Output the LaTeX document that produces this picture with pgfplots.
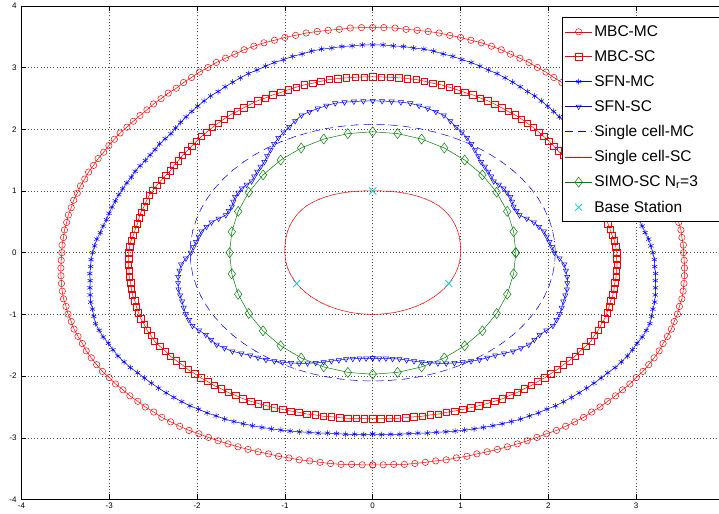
\documentclass[border=0pt]{standalone}
\usepackage{fontspec}
\setmainfont{Liberation Sans}
\usepackage{pgfplots}
\pgfplotsset{compat=1.18}
\definecolor{mgreen}{rgb}{0,0.5,0}
\definecolor{bscyan}{rgb}{0.1,0.8,0.8}
\begin{document}
\begin{tikzpicture}
\begin{axis}[name=ax, scale only axis, width=702.4pt, height=493.6pt,
 xmin=-4, xmax=4, ymin=-4, ymax=4,
 xtick={-4,-3,...,4}, ytick={-4,-3,...,4},
 xticklabels={-4,-3,-2,-1,0,1,2,3,{}},
 grid=major, grid style={black!70, line width=0.5pt, dash pattern=on 0.8pt off 2.4pt},
 tick align=inside, major tick length=5pt, tick style={black, line width=0.5pt},
 axis line style={black, line width=0.6pt},
 ticklabel style={font=\fontsize{8}{9}\selectfont},
 yticklabel style={xshift=-1.5pt},
 /pgf/number format/assume math mode=true,
 legend cell align=left,
 legend image code/.code={\draw[mark repeat=2,mark phase=2,#1] plot coordinates {(0cm,0cm)(0.47cm,0cm)(0.94cm,0cm)};},
 legend style={at={(0.769,0.977)}, anchor=north west, line width=0.8pt,
   font=\fontsize{15.5}{18}\selectfont, inner xsep=3pt, inner ysep=6pt, row sep=8.6pt,
   nodes={inner sep=2pt, text depth=0.15em}},
]
% MBC-MC
\addplot[red, draw=red, line width=0.5pt, mark=o, mark size=3.2pt, data cs=polar] coordinates {
(-90,3.44) (-88,3.44) (-86,3.44) (-84,3.45) (-82,3.45) (-80,3.45) (-78,3.45) (-76,3.46) (-74,3.46) (-72,3.47) (-70,3.47) (-68,3.48) (-66,3.49) (-64,3.50) (-62,3.51) (-60,3.52) (-58,3.53) (-56,3.54) (-54,3.56) (-52,3.57) (-50,3.58) (-48,3.59) (-46,3.59) (-44,3.60) (-42,3.60) (-40,3.61) (-38,3.61) (-36,3.62) (-34,3.62) (-32,3.63) (-30,3.63) (-28,3.63) (-26,3.63) (-24,3.62) (-22,3.62) (-20,3.62) (-18,3.61) (-16,3.61) (-14,3.60) (-12,3.60) (-10,3.59) (-8,3.58) (-6,3.57) (-4,3.56) (-2,3.55) (0,3.54) (2,3.54) (4,3.53) (6,3.53) (8,3.52) (10,3.52) (12,3.51) (14,3.51) (16,3.50) (18,3.50) (20,3.49) (22,3.49) (24,3.48) (26,3.48) (28,3.47) (30,3.47) (32,3.47) (34,3.47) (36,3.46) (38,3.46) (40,3.46) (42,3.46) (44,3.47) (46,3.47) (48,3.48) (50,3.48) (52,3.50) (54,3.51) (56,3.53) (58,3.54) (60,3.56) (62,3.57) (64,3.58) (66,3.60) (68,3.61) (70,3.62) (72,3.62) (74,3.63) (76,3.63) (78,3.64) (80,3.64) (82,3.64) (84,3.64) (86,3.65) (88,3.65) (90,3.65)
(92,3.65) (94,3.65) (96,3.64) (98,3.64) (100,3.64) (102,3.64) (104,3.63) (106,3.63) (108,3.62) (110,3.62) (112,3.61) (114,3.60) (116,3.58) (118,3.57) (120,3.56) (122,3.54) (124,3.53) (126,3.51) (128,3.50) (130,3.48) (132,3.48) (134,3.47) (136,3.47) (138,3.46) (140,3.46) (142,3.46) (144,3.46) (146,3.47) (148,3.47) (150,3.47) (152,3.47) (154,3.48) (156,3.48) (158,3.49) (160,3.49) (162,3.50) (164,3.50) (166,3.51) (168,3.51) (170,3.52) (172,3.52) (174,3.53) (176,3.53) (178,3.54) (180,3.54) (182,3.55) (184,3.56) (186,3.57) (188,3.58) (190,3.59) (192,3.60) (194,3.60) (196,3.61) (198,3.61) (200,3.62) (202,3.62) (204,3.62) (206,3.63) (208,3.63) (210,3.63) (212,3.63) (214,3.62) (216,3.62) (218,3.61) (220,3.61) (222,3.60) (224,3.60) (226,3.59) (228,3.59) (230,3.58) (232,3.57) (234,3.56) (236,3.54) (238,3.53) (240,3.52) (242,3.51) (244,3.50) (246,3.49) (248,3.48) (250,3.47) (252,3.47) (254,3.46) (256,3.46) (258,3.45) (260,3.45) (262,3.45) (264,3.45) (266,3.44) (268,3.44) (270,3.44)
};
\addlegendentry{MBC-MC}
% MBC-SC
\addplot[red, draw=red, line width=0.5pt, mark=square, mark size=3.2pt, data cs=polar] coordinates {
(-90,2.69) (-88,2.69) (-86,2.69) (-84,2.70) (-82,2.70) (-80,2.70) (-78,2.71) (-76,2.71) (-74,2.72) (-72,2.72) (-70,2.73) (-68,2.74) (-66,2.75) (-64,2.76) (-62,2.77) (-60,2.78) (-58,2.79) (-56,2.79) (-54,2.80) (-52,2.80) (-50,2.81) (-48,2.81) (-46,2.82) (-44,2.82) (-42,2.83) (-40,2.83) (-38,2.84) (-36,2.85) (-34,2.85) (-32,2.86) (-30,2.87) (-28,2.86) (-26,2.86) (-24,2.85) (-22,2.85) (-20,2.84) (-18,2.83) (-16,2.82) (-14,2.82) (-12,2.81) (-10,2.80) (-8,2.80) (-6,2.79) (-4,2.79) (-2,2.78) (0,2.78) (2,2.77) (4,2.76) (6,2.74) (8,2.73) (10,2.72) (12,2.72) (14,2.72) (16,2.71) (18,2.71) (20,2.71) (22,2.70) (24,2.69) (26,2.68) (28,2.67) (30,2.66) (32,2.67) (34,2.67) (36,2.68) (38,2.68) (40,2.69) (42,2.70) (44,2.71) (46,2.72) (48,2.73) (50,2.74) (52,2.75) (54,2.76) (56,2.76) (58,2.77) (60,2.78) (62,2.79) (64,2.79) (66,2.80) (68,2.80) (70,2.81) (72,2.82) (74,2.83) (76,2.83) (78,2.84) (80,2.85) (82,2.85) (84,2.85) (86,2.85) (88,2.85) (90,2.85)
(92,2.85) (94,2.85) (96,2.85) (98,2.85) (100,2.85) (102,2.84) (104,2.83) (106,2.83) (108,2.82) (110,2.81) (112,2.80) (114,2.80) (116,2.79) (118,2.79) (120,2.78) (122,2.77) (124,2.76) (126,2.76) (128,2.75) (130,2.74) (132,2.73) (134,2.72) (136,2.71) (138,2.70) (140,2.69) (142,2.68) (144,2.68) (146,2.67) (148,2.67) (150,2.66) (152,2.67) (154,2.68) (156,2.69) (158,2.70) (160,2.71) (162,2.71) (164,2.71) (166,2.72) (168,2.72) (170,2.72) (172,2.73) (174,2.74) (176,2.76) (178,2.77) (180,2.78) (182,2.78) (184,2.79) (186,2.79) (188,2.80) (190,2.80) (192,2.81) (194,2.82) (196,2.82) (198,2.83) (200,2.84) (202,2.85) (204,2.85) (206,2.86) (208,2.86) (210,2.87) (212,2.86) (214,2.85) (216,2.85) (218,2.84) (220,2.83) (222,2.83) (224,2.82) (226,2.82) (228,2.81) (230,2.81) (232,2.80) (234,2.80) (236,2.79) (238,2.79) (240,2.78) (242,2.77) (244,2.76) (246,2.75) (248,2.74) (250,2.73) (252,2.72) (254,2.72) (256,2.71) (258,2.71) (260,2.70) (262,2.70) (264,2.70) (266,2.69) (268,2.69) (270,2.69)
};
\addlegendentry{MBC-SC}
% SFN-MC
\addplot[blue, draw=blue, line width=0.5pt, mark=asterisk, mark size=3pt, data cs=polar] coordinates {
(-90,2.94) (-88,2.95) (-86,2.95) (-84,2.96) (-82,2.96) (-80,2.97) (-78,2.99) (-76,3.00) (-74,3.02) (-72,3.04) (-70,3.06) (-68,3.08) (-66,3.10) (-64,3.12) (-62,3.14) (-60,3.16) (-58,3.18) (-56,3.19) (-54,3.21) (-52,3.22) (-50,3.24) (-48,3.25) (-46,3.26) (-44,3.27) (-42,3.28) (-40,3.29) (-38,3.30) (-36,3.31) (-34,3.33) (-32,3.34) (-30,3.35) (-28,3.35) (-26,3.35) (-24,3.36) (-22,3.36) (-20,3.36) (-18,3.34) (-16,3.32) (-14,3.31) (-12,3.29) (-10,3.27) (-8,3.25) (-6,3.24) (-4,3.22) (-2,3.21) (0,3.19) (2,3.17) (4,3.15) (6,3.12) (8,3.10) (10,3.08) (12,3.07) (14,3.06) (16,3.05) (18,3.04) (20,3.03) (22,3.02) (24,3.01) (26,3.01) (28,3.00) (30,2.99) (32,2.99) (34,2.99) (36,3.00) (38,3.00) (40,3.00) (42,3.02) (44,3.04) (46,3.06) (48,3.08) (50,3.10) (52,3.12) (54,3.14) (56,3.15) (58,3.17) (60,3.19) (62,3.21) (64,3.23) (66,3.24) (68,3.26) (70,3.28) (72,3.29) (74,3.31) (76,3.32) (78,3.34) (80,3.35) (82,3.35) (84,3.36) (86,3.36) (88,3.37) (90,3.37)
(92,3.37) (94,3.36) (96,3.36) (98,3.35) (100,3.35) (102,3.34) (104,3.32) (106,3.31) (108,3.29) (110,3.28) (112,3.26) (114,3.24) (116,3.23) (118,3.21) (120,3.19) (122,3.17) (124,3.15) (126,3.14) (128,3.12) (130,3.10) (132,3.08) (134,3.06) (136,3.04) (138,3.02) (140,3.00) (142,3.00) (144,3.00) (146,2.99) (148,2.99) (150,2.99) (152,3.00) (154,3.01) (156,3.01) (158,3.02) (160,3.03) (162,3.04) (164,3.05) (166,3.06) (168,3.07) (170,3.08) (172,3.10) (174,3.12) (176,3.15) (178,3.17) (180,3.19) (182,3.21) (184,3.22) (186,3.24) (188,3.25) (190,3.27) (192,3.29) (194,3.31) (196,3.32) (198,3.34) (200,3.36) (202,3.36) (204,3.36) (206,3.35) (208,3.35) (210,3.35) (212,3.34) (214,3.33) (216,3.31) (218,3.30) (220,3.29) (222,3.28) (224,3.27) (226,3.26) (228,3.25) (230,3.24) (232,3.22) (234,3.21) (236,3.19) (238,3.18) (240,3.16) (242,3.14) (244,3.12) (246,3.10) (248,3.08) (250,3.06) (252,3.04) (254,3.02) (256,3.00) (258,2.99) (260,2.97) (262,2.96) (264,2.96) (266,2.95) (268,2.95) (270,2.94)
};
\addlegendentry{SFN-MC}
% SFN-SC
\addplot[blue, draw=blue, line width=0.5pt, mark=triangle, mark size=3pt, mark options={rotate=180}, data cs=polar] coordinates {
(-90,1.71) (-87.5,1.715) (-85,1.72) (-82.5,1.735) (-80,1.75) (-77.5,1.785) (-75,1.82) (-72.5,1.86) (-70,1.90) (-67.5,1.94) (-65,1.98) (-62.5,2.015) (-60,2.05) (-57.5,2.085) (-55,2.12) (-52.5,2.145) (-50,2.17) (-47.5,2.215) (-45,2.26) (-42.5,2.29) (-40,2.32) (-37.5,2.32) (-35,2.32) (-32.5,2.345) (-30,2.37) (-27.5,2.36) (-25,2.35) (-22.5,2.33) (-20,2.31) (-17.5,2.30) (-15,2.29) (-12.5,2.27) (-10,2.25) (-7.5,2.22) (-5,2.19) (-2.5,2.13) (0,2.07) (2.5,2.045) (5,2.02) (7.5,2.00) (10,1.98) (12.5,1.94) (15,1.90) (17.5,1.84) (20,1.78) (22.5,1.775) (25,1.77) (27.5,1.79) (30,1.81) (32.5,1.815) (35,1.82) (37.5,1.81) (40,1.80) (42.5,1.83) (45,1.86) (47.5,1.89) (50,1.92) (52.5,1.975) (55,2.03) (57.5,2.09) (60,2.15) (62.5,2.20) (65,2.25) (67.5,2.31) (70,2.37) (72.5,2.395) (75,2.42) (77.5,2.44) (80,2.46) (82.5,2.46) (85,2.46) (87.5,2.46) (90,2.46)
(92.5,2.46) (95,2.46) (97.5,2.46) (100,2.46) (102.5,2.44) (105,2.42) (107.5,2.395) (110,2.37) (112.5,2.31) (115,2.25) (117.5,2.20) (120,2.15) (122.5,2.09) (125,2.03) (127.5,1.975) (130,1.92) (132.5,1.89) (135,1.86) (137.5,1.83) (140,1.80) (142.5,1.81) (145,1.82) (147.5,1.815) (150,1.81) (152.5,1.79) (155,1.77) (157.5,1.775) (160,1.78) (162.5,1.84) (165,1.90) (167.5,1.94) (170,1.98) (172.5,2.00) (175,2.02) (177.5,2.045) (180,2.07) (182.5,2.13) (185,2.19) (187.5,2.22) (190,2.25) (192.5,2.27) (195,2.29) (197.5,2.30) (200,2.31) (202.5,2.33) (205,2.35) (207.5,2.36) (210,2.37) (212.5,2.345) (215,2.32) (217.5,2.32) (220,2.32) (222.5,2.29) (225,2.26) (227.5,2.215) (230,2.17) (232.5,2.145) (235,2.12) (237.5,2.085) (240,2.05) (242.5,2.015) (245,1.98) (247.5,1.94) (250,1.90) (252.5,1.86) (255,1.82) (257.5,1.785) (260,1.75) (262.5,1.735) (265,1.72) (267.5,1.715) (270,1.71)
};
\addlegendentry{SFN-SC}
% Single cell-MC
\addplot[blue, draw=blue, line width=0.5pt, dash pattern=on 8pt off 5pt, data cs=polar,
  mark=*, mark size=0.1pt, mark options={draw=none, fill=none}] coordinates {
(0,2.08) (5,2.08) (10,2.08) (15,2.08) (20,2.08) (25,2.08) (30,2.08) (35,2.08) (40,2.08) (45,2.08) (50,2.08) (55,2.08) (60,2.08) (65,2.08) (70,2.08) (75,2.08) (80,2.08) (85,2.08) (90,2.08) (95,2.08) (100,2.08) (105,2.08) (110,2.08) (115,2.08) (120,2.08) (125,2.08) (130,2.08) (135,2.08) (140,2.08) (145,2.08) (150,2.08) (155,2.08) (160,2.08) (165,2.08) (170,2.08) (175,2.08) (180,2.08) (185,2.08) (190,2.08) (195,2.08) (200,2.08) (205,2.08) (210,2.08) (215,2.08) (220,2.08) (225,2.08) (230,2.08) (235,2.08) (240,2.08) (245,2.08) (250,2.08) (255,2.08) (260,2.08) (265,2.08) (270,2.08) (275,2.08) (280,2.08) (285,2.08) (290,2.08) (295,2.08) (300,2.08) (305,2.08) (310,2.08) (315,2.08) (320,2.08) (325,2.08) (330,2.08) (335,2.08) (340,2.08) (345,2.08) (350,2.08) (355,2.08) (360,2.08)
};
\addlegendentry{Single cell-MC\hspace*{22pt}}
% Single cell-SC
\addplot[red, draw=red, line width=0.5pt, data cs=polar,
  mark=*, mark size=0.1pt, mark options={draw=none, fill=none}] coordinates {
(-90,1.00) (-85,1.00) (-80,1.00) (-75,1.00) (-70,1.00) (-65,1.00) (-60,1.00) (-55,1.00) (-50,1.00) (-45,1.00) (-40,1.00) (-35,1.00) (-30,1.00) (-25,1.00) (-20,1.00) (-15,1.00) (-10,1.00) (-5,1.00) (0,1.00) (5,1.005) (10,1.01) (15,1.02) (20,1.03) (25,1.04) (30,1.05) (35,1.06) (40,1.065) (45,1.07) (50,1.065) (55,1.06) (60,1.05) (65,1.04) (70,1.03) (75,1.02) (80,1.01) (85,1.005) (90,1.00)
(95,1.005) (100,1.01) (105,1.02) (110,1.03) (115,1.04) (120,1.05) (125,1.06) (130,1.065) (135,1.07) (140,1.065) (145,1.06) (150,1.05) (155,1.04) (160,1.03) (165,1.02) (170,1.01) (175,1.005) (180,1.00) (185,1.00) (190,1.00) (195,1.00) (200,1.00) (205,1.00) (210,1.00) (215,1.00) (220,1.00) (225,1.00) (230,1.00) (235,1.00) (240,1.00) (245,1.00) (250,1.00) (255,1.00) (260,1.00) (265,1.00) (270,1.00)
};
\addlegendentry{Single cell-SC}
% SIMO-SC
\addplot[mgreen, draw=mgreen, line width=0.5pt, mark=diamond, mark size=5pt] coordinates {
(1.63,0) (1.605,0.340) (1.532,0.670) (1.412,0.980) (1.249,1.260) (1.048,1.501) (0.815,1.697) (0.557,1.842) (0.283,1.930) (0,1.96) (-0.283,1.930) (-0.557,1.842) (-0.815,1.697) (-1.048,1.501) (-1.249,1.260) (-1.412,0.980) (-1.532,0.670) (-1.605,0.340) (-1.63,0) (-1.605,-0.342) (-1.532,-0.674) (-1.412,-0.985) (-1.249,-1.266) (-1.048,-1.509) (-0.815,-1.706) (-0.557,-1.851) (-0.283,-1.940) (0,-1.97) (0.283,-1.940) (0.557,-1.851) (0.815,-1.706) (1.048,-1.509) (1.249,-1.266) (1.412,-0.985) (1.532,-0.674) (1.605,-0.342) (1.63,0)
};
\addlegendentry{SIMO-SC N\textsubscript{r}=3}
% Base stations
\addplot[bscyan, draw=bscyan, line width=0.8pt, only marks, mark=x, mark size=5pt] coordinates {
(0,1) (-0.866,-0.5) (0.866,-0.5)
};
\addlegendentry{Base Station}
\end{axis}
\pgfresetboundingbox
\path ([shift={(-21.5pt,-14.5pt)}]ax.south west) rectangle ([shift={(697.5pt,5.9pt)}]ax.north west);
\end{tikzpicture}
\end{document}
